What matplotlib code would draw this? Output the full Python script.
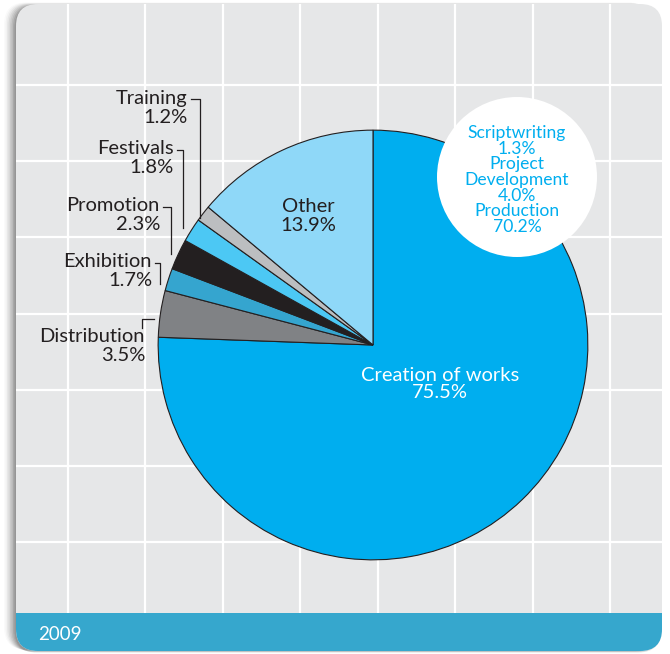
import matplotlib
matplotlib.use("Agg")
import matplotlib.pyplot as plt
from matplotlib.patches import FancyBboxPatch, Circle, Rectangle
import numpy as np

# Funding shares by activity, 2009
categories = ["Creation of works", "Distribution", "Exhibition", "Promotion",
              "Festivals", "Training", "Other"]
shares = [75.5, 3.5, 1.7, 2.3, 1.8, 1.2, 13.9]
colors = ["#00aeef", "#808285", "#35a5cf", "#231f20", "#4cc8f4", "#bcbec0", "#8fd8f8"]

# Breakdown of "Creation of works"
sub_categories = ["Scriptwriting", "Project\nDevelopment", "Production"]
sub_shares = [1.3, 4.0, 70.2]

year_label = "2009"

W, H = 670, 654
FONT = ["Lato", "DejaVu Sans"]
DARK = "#231f20"
LABEL_SIZE = 14.5

fig = plt.figure(figsize=(W / 100, H / 100), dpi=100)
fig.patch.set_facecolor("white")

# ---- background panel (pixel coordinates, y downward) ----
bg = fig.add_axes([0, 0, 1, 1], zorder=0)
bg.set_xlim(0, W)
bg.set_ylim(H, 0)
bg.axis("off")

x0, y0, x1, y1 = 16, 4, 662, 651
band_top = 613
rad = 22
# soft shadow on the left
for i, a in enumerate(np.linspace(0.10, 0.02, 8)):
    off = 1.5 * (i + 1)
    bg.add_patch(FancyBboxPatch((x0 - off, y0 + 2 - off * 0.3), (x1 - x0), (y1 - y0),
                                boxstyle=f"round,pad=0,rounding_size={rad}",
                                fc="black", ec="none", alpha=a, zorder=0))
panel = FancyBboxPatch((x0, y0), x1 - x0, y1 - y0,
                       boxstyle=f"round,pad=0,rounding_size={rad}",
                       fc="#e6e7e8", ec="none", zorder=1)
bg.add_patch(panel)

# grid
for gx in np.linspace(68, 610, 8):
    ln, = bg.plot([gx, gx], [y0, band_top], color="white", lw=1.6, zorder=2,
                  solid_capstyle="butt")
    ln.set_clip_path(panel)
for gy in np.linspace(85, 542.2, 7):
    ln, = bg.plot([x0, x1], [gy, gy], color="white", lw=1.6, zorder=2,
                  solid_capstyle="butt")
    ln.set_clip_path(panel)

# bottom band, clipped to the rounded panel
band = Rectangle((x0, band_top), x1 - x0, y1 - band_top + 2, fc="#36a7cd", ec="none",
                 zorder=3)
bg.add_patch(band)
band.set_clip_path(panel)
bg.text(38, 634, year_label, color="white", fontsize=13.5, family=FONT,
        ha="left", va="center", zorder=5)

# ---- pie ----
cx, cy, r = 373, 345, 217
pie_ax = fig.add_axes([(cx - r) / W, (H - cy - r) / H, 2 * r / W, 2 * r / H], zorder=1)
pie_ax.pie(shares, colors=colors, startangle=90, counterclock=False, radius=1,
           wedgeprops=dict(edgecolor=DARK, linewidth=0.8))
pie_ax.set_xlim(-1.01, 1.01)
pie_ax.set_ylim(-1.01, 1.01)
pie_ax.set_aspect("equal")
pie_ax.axis("off")

# ---- overlay: labels, leaders, circle ----
ov = fig.add_axes([0, 0, 1, 1], zorder=2)
ov.set_xlim(0, W)
ov.set_ylim(H, 0)
ov.axis("off")
ov.patch.set_alpha(0)

def pct(v):
    return f"{v:.1f}%"

ov.text(440, 384, f"{categories[0]}\n{pct(shares[0])}", color="white", fontsize=LABEL_SIZE,
        family=FONT, ha="center", va="center", linespacing=1.05)
ov.text(308, 216, f"{categories[6]}\n{pct(shares[6])}", color=DARK, fontsize=LABEL_SIZE,
        family=FONT, ha="center", va="center", linespacing=1.15)

# left labels: (index, text right edge, text centre y, leader x, tick y, leader end y)
left_labels = [
    (5, 188, 108, 200, 99, 218),
    (4, 174, 158, 183, 150, 228),
    (3, 160, 215, 171, 207, 254),
    (2, 152, 271, 160, 263, 284),
]
for idx, tx, ty, lx, tky, ly in left_labels:
    ov.text(tx, ty, f"{categories[idx]}\n{pct(shares[idx])}", color=DARK,
            fontsize=LABEL_SIZE, family=FONT, ha="right", va="center", linespacing=1.15)
    ov.plot([tx + 3, lx, lx], [tky, tky, ly], color=DARK, lw=0.9)

# Distribution label sits below its leader
ov.text(145, 346, f"{categories[1]}\n{pct(shares[1])}", color=DARK, fontsize=LABEL_SIZE,
        family=FONT, ha="right", va="center", linespacing=1.15)
ov.plot([142, 142, 154], [328, 319, 319], color=DARK, lw=0.9)

# breakdown bubble
ov.add_patch(Circle((517, 177), 80, fc="white", ec="none"))
sub_lines = []
for name, v in zip(sub_categories, sub_shares):
    sub_lines.append(name)
    sub_lines.append(pct(v))
ov.text(517, 180, "\n".join(sub_lines), color="#00aeef", fontsize=12.6,
        family=FONT, ha="center", va="center", linespacing=0.98)

fig.savefig("out.png", dpi=100)
